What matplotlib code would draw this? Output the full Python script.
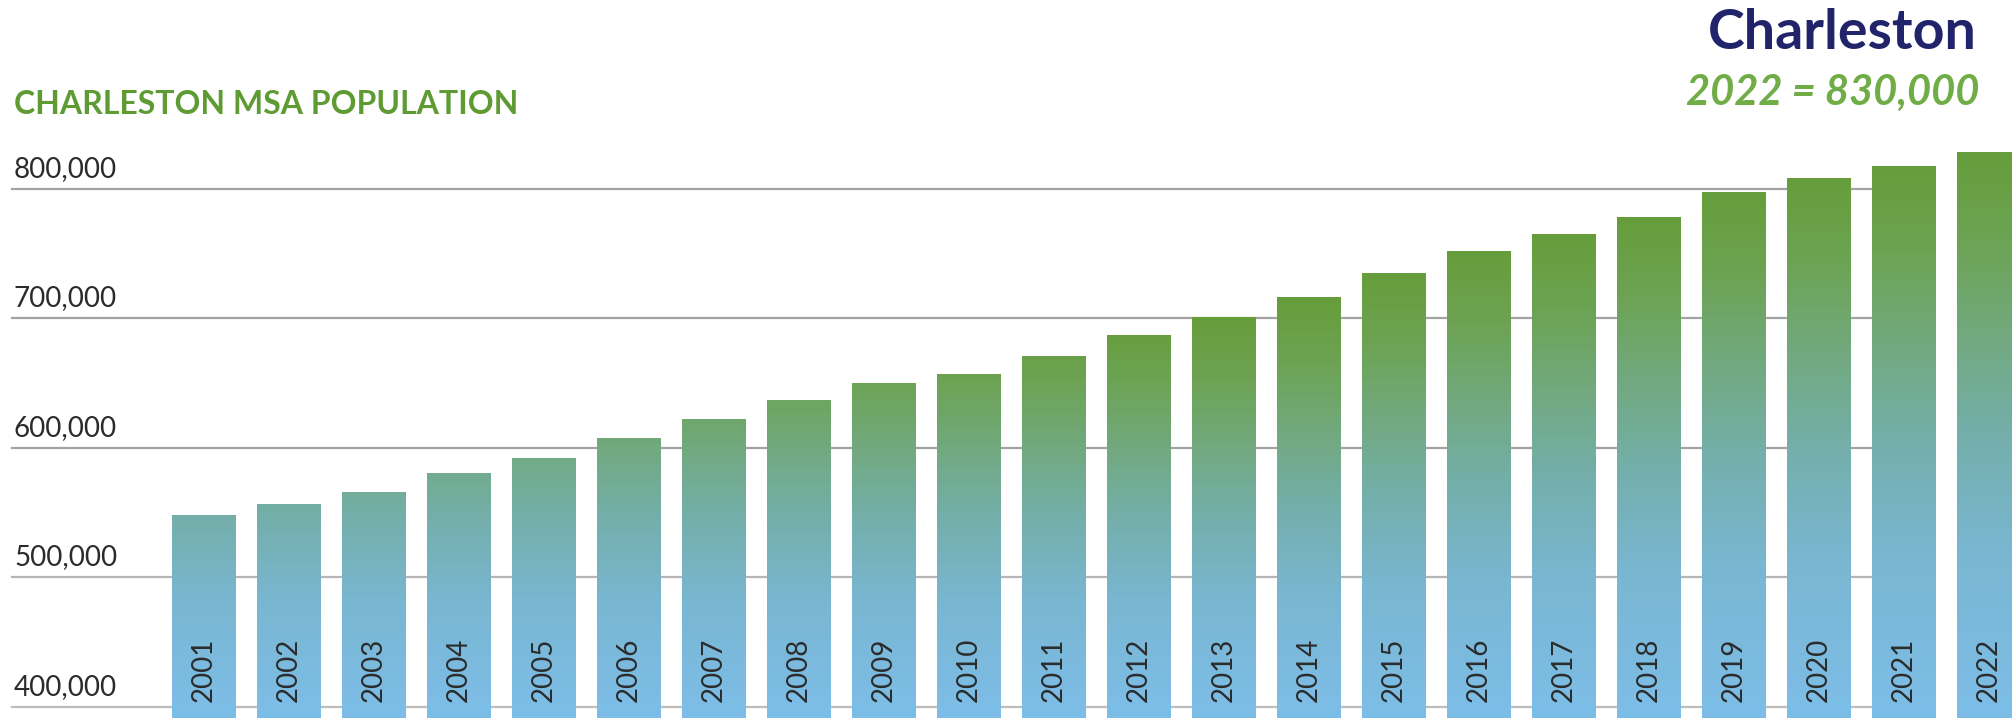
import numpy as np
import matplotlib
matplotlib.use("Agg")
from matplotlib import pyplot as plt
from matplotlib.colors import LinearSegmentedColormap
import matplotlib.transforms as mtransforms

# data (population)
years = [str(y) for y in range(2001, 2023)]
population = [548000, 556000, 566000, 580000, 592000, 607000, 622000, 637000,
              650000, 657000, 671000, 687000, 701000, 716000, 735000, 752000,
              765000, 778000, 797000, 808000, 817000, 828000]
tick_values = [400000, 500000, 600000, 700000, 800000]

title = "CHARLESTON MSA POPULATION"
city = "Charleston"
callout = "2022 = 830,000"

plt.rcParams['font.family'] = ['Lato', 'DejaVu Sans']

W, H = 2012, 718
fig = plt.figure(figsize=(W / 100, H / 100), dpi=100)
ax = fig.add_axes([0, 0, 1, 1])

ymin, ymax = 391500, 945900
ax.set_xlim(-2.396, 21.27)
ax.set_ylim(ymin, ymax)
ax.axis("off")

# gradient blue -> teal -> green
cmap = LinearSegmentedColormap.from_list("bars", [
    (0.0, "#7dbee9"),
    (0.3, "#79b6d0"),
    (0.5, "#74afab"),
    (0.68, "#72a97e"),
    (0.85, "#6ca352"),
    (1.0, "#669d3b"),
])

bar_w = 0.75
for i, v in enumerate(population):
    g = min(1.0, (v - ymin) / (700000 - ymin))
    f = np.linspace(0, 1, 256)
    col = cmap(f * g)[:, :3].reshape(256, 1, 3)
    ax.imshow(col, extent=(i - bar_w / 2, i + bar_w / 2, ymin, v),
              origin="lower", aspect="auto", interpolation="bilinear", zorder=1)

# gridlines + labels above them
grid_cols = {400000: "#bdbdbd", 500000: "#b5b5b5"}
for t in tick_values:
    ax.axhline(t, xmin=12 / W, xmax=1921 / W, color=grid_cols.get(t, "#a3a3a3"),
               lw=1.6, zorder=0.5)
    lbl_tr = mtransforms.offset_copy(ax.transData, fig=fig, y=12, units="dots")
    ax.text(-2.396 + 14 / 85.05, t, f"{t:,}", transform=lbl_tr, fontsize=20,
            color="#2b2b2b", ha="left", va="baseline")

# year labels inside bars
tr = mtransforms.blended_transform_factory(ax.transData, ax.transAxes)
for i, y in enumerate(years):
    ax.text(i, 0.022, y, transform=tr, rotation=90, ha="center", va="bottom",
            fontsize=20, color="#2b2b2b", zorder=3)

fig.text(14 / W, 1 - 114 / H, title, fontsize=23, fontweight="bold",
         color="#5f9b33", ha="left", va="baseline")
fig.text(1977 / W, 1 - 49 / H, city, fontsize=40, fontweight="bold",
         color="#21246a", ha="right", va="baseline")
fig.text(1979 / W, 1 - 105 / H, callout, fontsize=30, fontweight="bold",
         fontstyle="italic", color="#70ad46", ha="right", va="baseline")

fig.savefig("out.png", dpi=100)
